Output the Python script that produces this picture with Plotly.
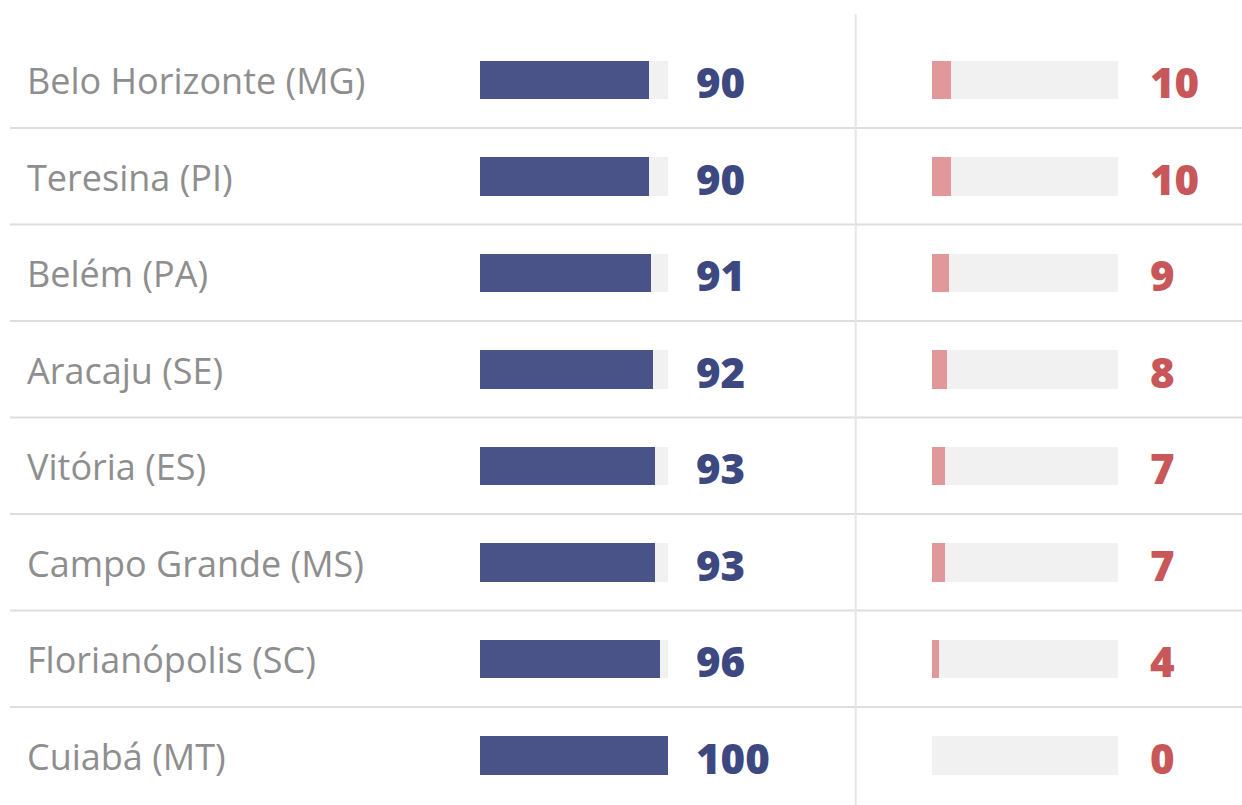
import plotly.graph_objects as go

# Capitals and their shares (percent), top to bottom
cities = [
    "Belo Horizonte (MG)",
    "Teresina (PI)",
    "Belém (PA)",
    "Aracaju (SE)",
    "Vitória (ES)",
    "Campo Grande (MS)",
    "Florianópolis (SC)",
    "Cuiabá (MT)",
]
share_yes = [90, 90, 91, 92, 93, 93, 96, 100]
share_no = [10, 10, 9, 8, 7, 7, 4, 0]
track_max = [100] * len(cities)

W, H = 1242, 805
BLUE = "#4a5387"
BLUE_TXT = "#3e4880"
PINK = "#e0989a"
RED_TXT = "#c8575a"
TRACK = "#f1f1f1"
GRID = "#dedede"
LABEL = "#8e8e8e"

# row layout (pixels): first row centre and row pitch
row0, pitch = 79.8, 96.5
n = len(cities)
y_top = -row0 / pitch
y_bot = (H - row0) / pitch

fig = go.Figure()

bar_w = 0.40
for xa, vals, col in (("x", share_yes, BLUE), ("x2", share_no, PINK)):
    fig.add_trace(go.Bar(
        x=track_max, y=cities, orientation="h", xaxis=xa, yaxis="y",
        marker=dict(color=TRACK, line=dict(width=0)), width=bar_w,
        hoverinfo="skip", showlegend=False,
    ))
    fig.add_trace(go.Bar(
        x=vals, y=cities, orientation="h", xaxis=xa, yaxis="y",
        marker=dict(color=col, line=dict(width=0)), width=bar_w,
        showlegend=False,
    ))

annotations = []
for c, a, b in zip(cities, share_yes, share_no):
    annotations.append(dict(
        x=25 / W, xref="paper", xanchor="left", y=c, yref="y", yanchor="middle",
        text=c, showarrow=False, yshift=-1,
        font=dict(family="Open Sans", size=36, color=LABEL),
    ))
    annotations.append(dict(
        x=694 / W, xref="paper", xanchor="left", y=c, yref="y", yanchor="middle",
        text=str(a), showarrow=False, yshift=-2,
        font=dict(family="Open Sans", size=42, color=BLUE_TXT, weight=800),
    ))
    annotations.append(dict(
        x=1148 / W, xref="paper", xanchor="left", y=c, yref="y", yanchor="middle",
        text=str(b), showarrow=False, yshift=-2,
        font=dict(family="Open Sans", size=42, color=RED_TXT, weight=800),
    ))

shapes = []
for i in range(n - 1):
    shapes.append(dict(
        type="line", xref="paper", yref="y", x0=10 / W, x1=1,
        y0=i + 0.5, y1=i + 0.5, line=dict(color=GRID, width=2), layer="below",
    ))
shapes.append(dict(
    type="line", xref="paper", yref="paper", x0=855.7 / W, x1=855.7 / W,
    y0=0, y1=1 - 14 / H, line=dict(color="#e6e6e6", width=2), layer="below",
))

fig.update_layout(
    width=W, height=H,
    margin=dict(l=0, r=0, t=0, b=0),
    paper_bgcolor="white", plot_bgcolor="rgba(0,0,0,0)",
    barmode="overlay", bargap=0,
    xaxis=dict(domain=[480 / W, 668 / W], range=[0, 100], visible=False, fixedrange=True),
    xaxis2=dict(domain=[932 / W, 1118 / W], range=[0, 100], visible=False, fixedrange=True),
    yaxis=dict(type="category", categoryorder="array", categoryarray=cities,
               range=[y_bot, y_top], visible=False, fixedrange=True),
    annotations=annotations,
    shapes=shapes,
)

fig.write_html("out.html")
